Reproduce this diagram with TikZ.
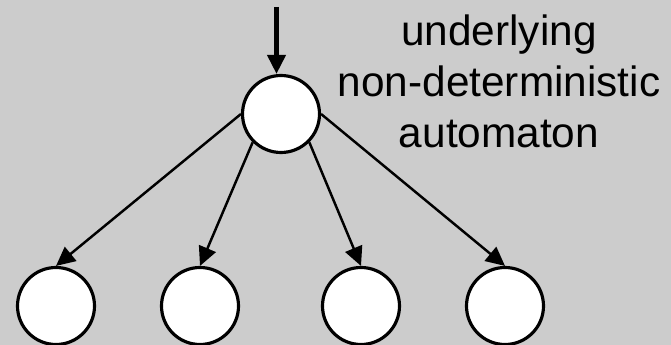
\documentclass[tikz,border=0pt]{standalone}
\usepackage{fontspec}
\setmainfont{Liberation Sans}
\usetikzlibrary{arrows.meta}
\definecolor{bggray}{HTML}{CCCCCC}

\tikzstyle{state} = [circle,draw=black,fill=white,line width=1.8pt,inner sep=0pt,minimum size=1.54cm]
\tikzstyle{trans} = [-{Triangle[length=0.38cm,width=0.36cm]},line width=1.4pt]

\begin{document}
\begin{tikzpicture}[node distance=2.88cm]
	\path [use as bounding box,fill=bggray] (0,0) rectangle (13.42,6.9);
	\node (root) [state] at (5.62,4.62) {};
	\node (q1) [state] at (1.12,0.78) {};
	\node (q2) [state,right of=q1] {};
	\node (q3) [state,right of=q2,node distance=3.22cm] {};
	\node (q4) [state,right of=q3] {};
	\coordinate (init) at (5.53,6.76);
	\node (label) [align=center,font=\fontsize{24.1pt}{29pt}\selectfont] at (9.98,5.28) {underlying\\non-deterministic\\automaton};
	\draw [trans,line width=2.3pt] (init) -- ([xshift=-0.09cm]root.north);
	\draw [trans] (root.west) -- (q1.north);
	\draw [trans] (root.south west) -- (q2.north);
	\draw [trans] (root.south east) -- (q3.north);
	\draw [trans] (root.east) -- (q4.north);
\end{tikzpicture}
\end{document}
